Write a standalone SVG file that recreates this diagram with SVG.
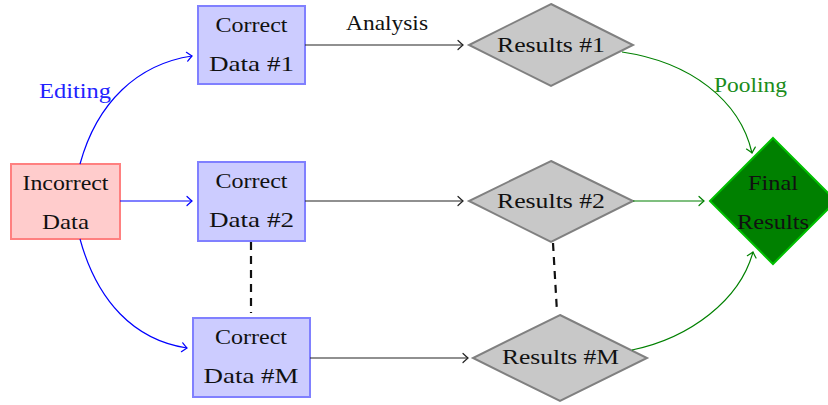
<svg xmlns="http://www.w3.org/2000/svg" width="828" height="405" viewBox="0 0 828 405">
<defs>
<marker id="ab" viewBox="-6 -6 8 12" markerWidth="8" markerHeight="12" refX="0" refY="0" orient="auto" markerUnits="userSpaceOnUse">
<path d="M-5,-4.5 Q-1.5,-1.2 0,0 Q-1.5,1.2 -5,4.5" fill="none" stroke="#0000ff" stroke-width="1.2" stroke-linecap="round"/>
</marker>
<marker id="ak" viewBox="-6 -6 8 12" markerWidth="8" markerHeight="12" refX="0" refY="0" orient="auto" markerUnits="userSpaceOnUse">
<path d="M-5,-4.5 Q-1.5,-1.2 0,0 Q-1.5,1.2 -5,4.5" fill="none" stroke="#222" stroke-width="1.2" stroke-linecap="round"/>
</marker>
<marker id="ag" viewBox="-6 -6 8 12" markerWidth="8" markerHeight="12" refX="0" refY="0" orient="auto" markerUnits="userSpaceOnUse">
<path d="M-5,-4.5 Q-1.5,-1.2 0,0 Q-1.5,1.2 -5,4.5" fill="none" stroke="#008000" stroke-width="1.2" stroke-linecap="round"/>
</marker>
</defs>
<style>
text{font-family:"Liberation Serif","Times New Roman",serif;font-size:21px;fill:#111;text-anchor:middle}
.red{fill:#ffcccc;stroke:#ff8080;stroke-width:2}
.blue{fill:#ccccff;stroke:#8080ff;stroke-width:2}
.gray{fill:#c8c8c8;stroke:#808080;stroke-width:2}
.fin{fill:#008000;stroke:#00c000;stroke-width:2}
.eb{fill:none;stroke:#0000ff;stroke-width:1.2;marker-end:url(#ab)}
.ek{fill:none;stroke:#222;stroke-width:1.2;marker-end:url(#ak)}
.eg{fill:none;stroke:#008000;stroke-width:1.2;marker-end:url(#ag)}
.dash{fill:none;stroke:#111;stroke-width:2.2;stroke-dasharray:8 6}
</style>
<g id="incorrect">
<rect class="red" x="11" y="164" width="109" height="75"/>
<text x="65.5" y="190" textLength="86" lengthAdjust="spacingAndGlyphs">Incorrect</text>
<text x="65.5" y="229" textLength="47" lengthAdjust="spacingAndGlyphs">Data</text>
</g>
<g id="correct1">
<rect class="blue" x="198" y="6" width="107" height="78"/>
<text x="251.5" y="32" textLength="72" lengthAdjust="spacingAndGlyphs">Correct</text>
<text x="251.5" y="71" textLength="85" lengthAdjust="spacingAndGlyphs">Data #1</text>
</g>
<g id="correct2">
<rect class="blue" x="198" y="162" width="107" height="79"/>
<text x="251.5" y="188" textLength="72" lengthAdjust="spacingAndGlyphs">Correct</text>
<text x="251.5" y="227" textLength="85" lengthAdjust="spacingAndGlyphs">Data #2</text>
</g>
<g id="correctM">
<rect class="blue" x="193" y="318" width="117" height="79"/>
<text x="251" y="344" textLength="72" lengthAdjust="spacingAndGlyphs">Correct</text>
<text x="251" y="383" textLength="95" lengthAdjust="spacingAndGlyphs">Data #M</text>
</g>
<g id="results1">
<polygon class="gray" points="551,4 633,45 551,86 469,45"/>
<text x="551" y="52" textLength="108" lengthAdjust="spacingAndGlyphs">Results #1</text>
</g>
<g id="results2">
<polygon class="gray" points="551,161 633,201 551,242 469,201"/>
<text x="551" y="208" textLength="108" lengthAdjust="spacingAndGlyphs">Results #2</text>
</g>
<g id="resultsM">
<polygon class="gray" points="560,315 647,358 560,401 473,358"/>
<text x="560.5" y="364" textLength="117" lengthAdjust="spacingAndGlyphs">Results #M</text>
</g>
<g id="final">
<polygon class="fin" points="773,138 836,201 773,264 710,201"/>
<text x="773" y="190" textLength="50" lengthAdjust="spacingAndGlyphs">Final</text>
<text x="773" y="229" textLength="72" lengthAdjust="spacingAndGlyphs">Results</text>
</g>
<g id="connectors">
<path class="eb" d="M80,164 C97,102 138,64 192,56"/>
<path class="eb" d="M120,201 L192,201"/>
<path class="eb" d="M80,239 C97,301 134,340 187,348"/>
<path class="ek" d="M305,45 L463,45"/>
<path class="ek" d="M305,201 L463,201"/>
<path class="ek" d="M310,358 L468,358"/>
<path class="eg" d="M622,52 C690,62 740,100 752,153"/>
<path class="eg" d="M633,201 L704,201"/>
<path class="eg" d="M632,350 C690,338 740,300 753,252"/>
<path class="dash" d="M251,242 L251,313"/>
<path class="dash" d="M553,243 L557,312"/>
</g>
<g id="labels">
<text x="75" y="98" style="fill:#2222ff" textLength="72" lengthAdjust="spacingAndGlyphs">Editing</text>
<text x="387" y="30" textLength="82" lengthAdjust="spacingAndGlyphs">Analysis</text>
<text x="750.5" y="92" style="fill:#1a8c1a" textLength="73" lengthAdjust="spacingAndGlyphs">Pooling</text>
</g>
</svg>
